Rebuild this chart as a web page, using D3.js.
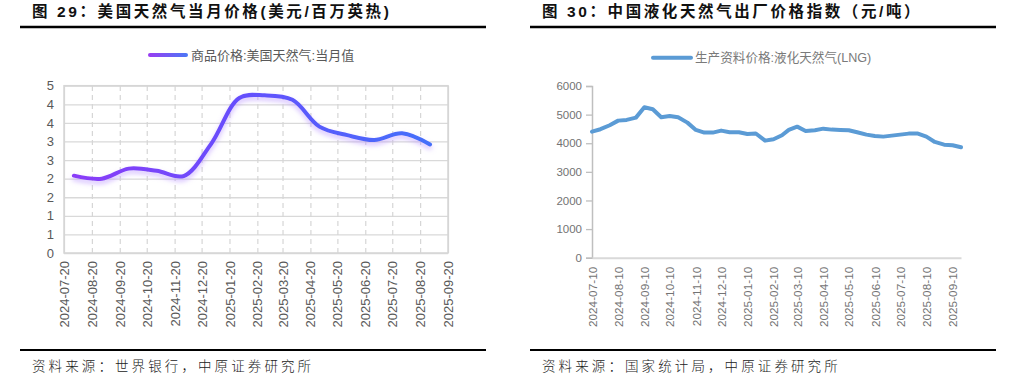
<!DOCTYPE html>
<html><head><meta charset="utf-8">
<script src="https://cdn.jsdelivr.net/npm/d3@7"></script>
<style>body{margin:0;background:#fff}svg{display:block}</style>
</head><body>
<svg id="c" width="1015" height="381"></svg>
<script>
// ---- Figure 29: US natural gas monthly price (USD/MMBtu)
const usTitle = "图 29：美国天然气当月价格(美元/百万英热)";
const usSeriesName = "商品价格:美国天然气:当月值";
const usSource = "资料来源：世界银行，中原证券研究所";
const usDates = ["2024-07-31","2024-08-31","2024-09-30","2024-10-31","2024-11-30","2024-12-31","2025-01-31","2025-02-28","2025-03-31","2025-04-30","2025-05-31","2025-06-30","2025-07-31","2025-08-31"];
const usValues = [2.08, 2.00, 2.27, 2.21, 2.07, 2.95, 4.17, 4.24, 4.12, 3.40, 3.17, 3.04, 3.22, 2.92];
const usTicks = ["2024-07-20","2024-08-20","2024-09-20","2024-10-20","2024-11-20","2024-12-20","2025-01-20","2025-02-20","2025-03-20","2025-04-20","2025-05-20","2025-06-20","2025-07-20","2025-08-20","2025-09-20"];
const usYTicks = [0,0.5,1,1.5,2,2.5,3,3.5,4,4.5];

// ---- Figure 30: China LNG ex-factory price index (yuan/ton)
const lngTitle = "图 30：中国液化天然气出厂价格指数（元/吨）";
const lngSeriesName = "生产资料价格:液化天然气(LNG)";
const lngSource = "资料来源：国家统计局，中原证券研究所";
const lngDates = ["2024-07-10","2024-07-20","2024-07-31","2024-08-10","2024-08-20","2024-08-31","2024-09-10","2024-09-20","2024-09-30","2024-10-10","2024-10-20","2024-10-31","2024-11-10","2024-11-20","2024-11-30","2024-12-10","2024-12-20","2024-12-31","2025-01-10","2025-01-20","2025-01-31","2025-02-10","2025-02-20","2025-02-28","2025-03-10","2025-03-20","2025-03-31","2025-04-10","2025-04-20","2025-04-30","2025-05-10","2025-05-20","2025-05-31","2025-06-10","2025-06-20","2025-06-30","2025-07-10","2025-07-20","2025-07-31","2025-08-10","2025-08-20","2025-08-31","2025-09-10","2025-09-20"];
const lngValues = [4406,4490,4629,4790,4815,4895,5259,5189,4909,4955,4909,4720,4465,4371,4371,4441,4385,4385,4325,4340,4091,4140,4280,4465,4580,4430,4455,4510,4476,4465,4455,4385,4301,4255,4231,4266,4301,4336,4336,4231,4045,3951,3930,3860];
const lngTicks = ["2024-07-10","2024-08-10","2024-09-10","2024-10-10","2024-11-10","2024-12-10","2025-01-10","2025-02-10","2025-03-10","2025-04-10","2025-05-10","2025-06-10","2025-07-10","2025-08-10","2025-09-10"];
const lngYTicks = [0,1000,2000,3000,4000,5000,6000];

const parse = d3.utcParse("%Y-%m-%d");
const fmt = d3.utcFormat("%Y-%m-%d");
const svg = d3.select("#c");
const LAT = "'Liberation Sans', Arial, 'Noto Sans CJK SC', sans-serif";
const CJK = "'Liberation Sans', 'Noto Sans CJK SC', sans-serif";

// ---------- headers / footers
function frame(x0, x1, tx, title, source) {
  svg.append("text").attr("x", tx).attr("y", 17)
    .attr("font-family", CJK).attr("font-weight", "bold").attr("font-size", 15.5)
    .attr("letter-spacing", 2.6).attr("fill", "#111").text(title);
  svg.append("line").attr("x1", x0).attr("x2", x1).attr("y1", 27).attr("y2", 27)
    .attr("stroke", "#000").attr("stroke-width", 2.4);
  svg.append("line").attr("x1", x0).attr("x2", x1).attr("y1", 350).attr("y2", 350)
    .attr("stroke", "#000").attr("stroke-width", 2.2);
  svg.append("text").attr("x", tx).attr("y", 371)
    .attr("font-family", CJK).attr("font-size", 13.5).attr("font-weight", 300)
    .attr("letter-spacing", 3.1).attr("fill", "#222").text(source);
}
frame(20, 486, 32, usTitle, usSource);
frame(530, 996, 542, lngTitle, lngSource);

// ---------- left chart
{
  const defs = svg.append("defs");
  const x = d3.scaleUtc().domain([parse(usTicks[0]), parse(usTicks[usTicks.length-1])]).range([64, 448]);
  const y = d3.scaleLinear().domain([0, 4.5]).range([253, 85.7]);

  const gy = svg.append("g").attr("transform", "translate(64,0)")
    .call(d3.axisLeft(y).tickValues(usYTicks).tickSize(-(448-64)).tickFormat(d => Math.round(d)).tickPadding(10));
  gy.select(".domain").remove();
  gy.selectAll(".tick line").attr("stroke", "#d9d9d9").attr("stroke-width", 1.3);
  gy.selectAll(".tick text").attr("font-family", LAT).attr("font-size", 13).attr("fill", "#595959");

  const gx = svg.append("g").attr("transform", "translate(0,253)")
    .call(d3.axisBottom(x).tickValues(usTicks.map(parse)).tickSize(-(253-85.7)).tickFormat(fmt).tickPadding(0));
  gx.select(".domain").remove();
  gx.selectAll(".tick line").attr("stroke", "#d6d6d6").attr("stroke-width", 1.2)
    .attr("stroke-dasharray", (d, i) => (i === 0 || i === usTicks.length - 1) ? null : "5,4");
  gx.selectAll(".tick text").attr("font-family", LAT).attr("font-size", 13).attr("fill", "#595959")
    .attr("transform", "rotate(-90)").attr("text-anchor", "end").attr("x", -8).attr("y", 0).attr("dy", "0.35em");

  svg.append("rect").attr("x", 64).attr("y", 85.7).attr("width", 448-64).attr("height", 253-85.7)
    .attr("fill", "none").attr("stroke", "#d6d6d6").attr("stroke-width", 1.5);

  const pts = usDates.map((d, i) => [x(parse(d)), y(usValues[i])]);
  const grad = defs.append("linearGradient").attr("id", "usg").attr("gradientUnits", "userSpaceOnUse")
    .attr("x1", pts[0][0]).attr("x2", pts[pts.length-1][0]).attr("y1", 0).attr("y2", 0);
  grad.append("stop").attr("offset", "0%").attr("stop-color", "#8a3cf8");
  grad.append("stop").attr("offset", "50%").attr("stop-color", "#6350fd");
  grad.append("stop").attr("offset", "100%").attr("stop-color", "#4470fa");
  const f = defs.append("filter").attr("id", "glow").attr("x", "-10%").attr("y", "-30%").attr("width", "120%").attr("height", "160%");
  f.append("feGaussianBlur").attr("in", "SourceAlpha").attr("stdDeviation", 2.4).attr("result", "b");
  f.append("feOffset").attr("in", "b").attr("dy", 3).attr("result", "o");
  f.append("feFlood").attr("flood-color", "#b48cff").attr("flood-opacity", 0.6).attr("result", "c");
  f.append("feComposite").attr("in", "c").attr("in2", "o").attr("operator", "in").attr("result", "s");
  const m = f.append("feMerge");
  m.append("feMergeNode").attr("in", "s");
  m.append("feMergeNode").attr("in", "SourceGraphic");

  const line = d3.line().curve(d3.curveCatmullRom.alpha(0.5));
  svg.append("path").attr("d", line(pts)).attr("fill", "none").attr("stroke", "url(#usg)")
    .attr("stroke-width", 4).attr("stroke-linecap", "round").attr("stroke-linejoin", "round")
    .attr("filter", "url(#glow)");

  const lg = defs.append("linearGradient").attr("id", "usl").attr("x1", "0%").attr("x2", "100%");
  lg.append("stop").attr("offset", "0%").attr("stop-color", "#9a3cf2");
  lg.append("stop").attr("offset", "100%").attr("stop-color", "#4a78f6");
  svg.append("rect").attr("x", 148).attr("y", 53).attr("width", 40).attr("height", 4).attr("rx", 2)
    .attr("fill", "url(#usl)");
  svg.append("text").attr("x", 191).attr("y", 55).attr("dy", "0.35em")
    .attr("font-family", CJK).attr("font-size", 13).attr("fill", "#595959").text(usSeriesName);
}

// ---------- right chart
{
  const x = d3.scaleUtc().domain([parse(lngTicks[0]), parse(lngDates[lngDates.length-1])]).range([592, 961]);
  const y = d3.scaleLinear().domain([0, 6000]).range([257.7, 86]);

  const gy = svg.append("g").attr("transform", "translate(592,0)")
    .call(d3.axisLeft(y).tickValues(lngYTicks).tickSize(6).tickPadding(4).tickFormat(d3.format("d")));
  gy.select(".domain").attr("stroke", "#bfbfbf").attr("stroke-width", 1.5);
  gy.selectAll(".tick line").attr("stroke", "#bfbfbf").attr("stroke-width", 1.3);
  gy.selectAll(".tick text").attr("font-family", LAT).attr("font-size", 11.5).attr("fill", "#737373");

  const gx = svg.append("g").attr("transform", "translate(0,257.7)")
    .call(d3.axisBottom(x).tickValues(lngTicks.map(parse)).tickSize(0).tickFormat(fmt).tickSizeOuter(0));
  gx.select(".domain").attr("stroke", "#d9d9d9").attr("stroke-width", 2);
  gx.selectAll(".tick text").attr("font-family", LAT).attr("font-size", 11.8).attr("fill", "#737373")
    .attr("transform", "rotate(-90)").attr("text-anchor", "end").attr("x", -9).attr("y", 0).attr("dy", "0.35em");

  const pts = lngDates.map((d, i) => [x(parse(d)), y(lngValues[i])]);
  svg.append("path").attr("d", d3.line()(pts)).attr("fill", "none").attr("stroke", "#5b9bd5")
    .attr("stroke-width", 4).attr("stroke-linejoin", "round").attr("stroke-linecap", "round");

  svg.append("line").attr("x1", 653).attr("x2", 691).attr("y1", 57.7).attr("y2", 57.7)
    .attr("stroke", "#5b9bd5").attr("stroke-width", 4).attr("stroke-linecap", "round");
  svg.append("text").attr("x", 695).attr("y", 57.7).attr("dy", "0.35em")
    .attr("font-family", CJK).attr("font-size", 12.6).attr("fill", "#7a7a7a").text(lngSeriesName);
}
</script>
</body></html>
